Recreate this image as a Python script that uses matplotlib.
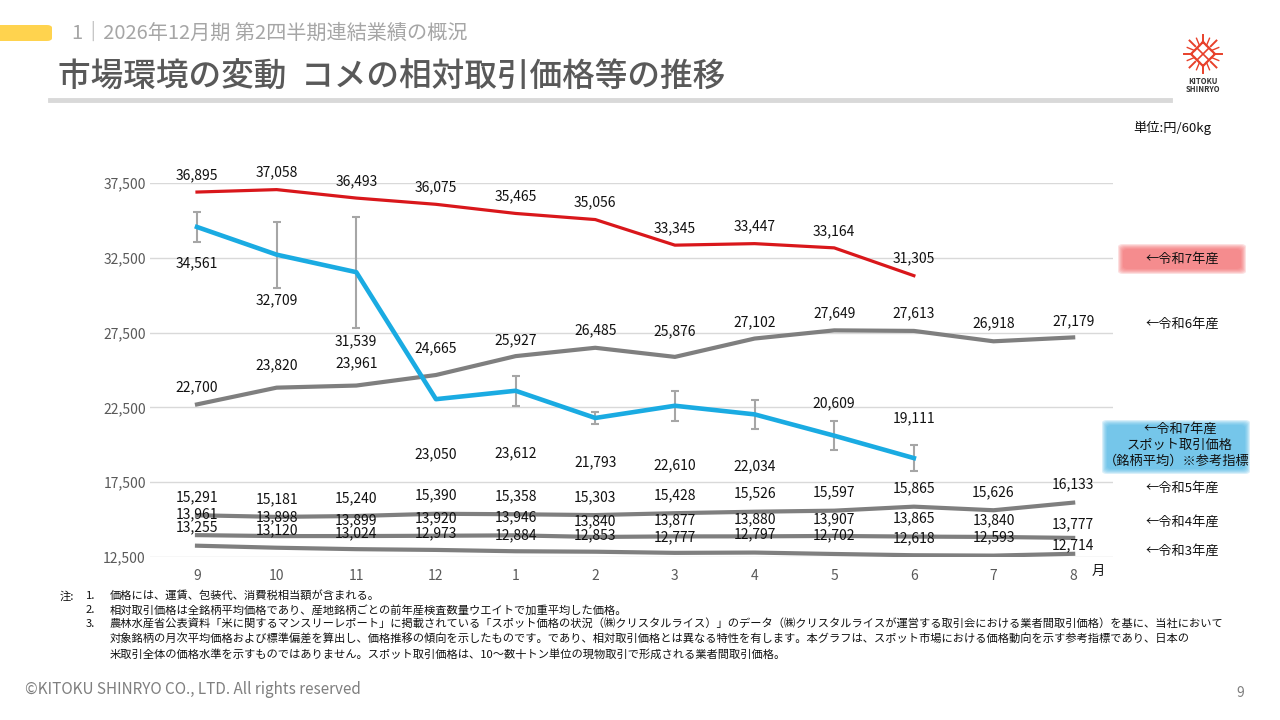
import numpy as np
import matplotlib
matplotlib.use('Agg')
import matplotlib.pyplot as plt
from matplotlib.patches import FancyBboxPatch
from matplotlib.lines import Line2D

plt.rcParams['font.family'] = ['Noto Sans CJK JP', 'DejaVu Sans']

# 値 (円/60kg)
months = ['9', '10', '11', '12', '1', '2', '3', '4', '5', '6', '7', '8']
r7 = [36895, 37058, 36493, 36075, 35465, 35056, 33345, 33447, 33164, 31305]
spot = [34561, 32709, 31539, 23050, 23612, 21793, 22610, 22034, 20609, 19111]
spot_sd = [1000, 2200, 3700, np.nan, 1000, 430, 1000, 970, 970, 870]
r6 = [22700, 23820, 23961, 24665, 25927, 26485, 25876, 27102, 27649, 27613, 26918, 27179]
r5 = [15291, 15181, 15240, 15390, 15358, 15303, 15428, 15526, 15597, 15865, 15626, 16133]
r4 = [13961, 13898, 13899, 13920, 13946, 13840, 13877, 13880, 13907, 13865, 13840, 13777]
r3 = [13255, 13120, 13024, 12973, 12884, 12853, 12777, 12797, 12702, 12618, 12593, 12714]
yticks = [12500, 17500, 22500, 27500, 32500, 37500]

# ラベルの上下ずらし (px, 上が正)
r7_dy = [17] * 10
spot_dy = [-36, -46, -69, -55, -63, -44, -60, -52, 32, 40]
r6_dy = [17, 22, 22, 27, 16, 17, 26, 16, 17, 18, 18, 16]
r5_dy = [18] * 12
r4_dy = [21, 19, 16, 17, 18, 16, 16, 17, 17, 18, 17, 14]
r3_dy = [18, 17, 16, 17, 16, 16, 16, 18, 19, 17, 18, 9]

W, H = 1280, 720
fig = plt.figure(figsize=(12.8, 7.2), dpi=100)


def ftext(x, y, s, **kw):
    fig.text(x / W, 1 - y / H, s, **kw)


def soft_box(x0, y0, x1, y1, color):
    # ぼかした背景
    for i in range(6):
        d = 6 - i
        p = FancyBboxPatch(((x0 - d) / W, 1 - (y1 + d) / H), (x1 - x0 + 2 * d) / W, (y1 - y0 + 2 * d) / H,
                           boxstyle='round,pad=0,rounding_size=0.004', transform=fig.transFigure,
                           facecolor=color, edgecolor='none', alpha=0.2)
        fig.add_artist(p)


ax = fig.add_axes([150 / W, 1 - 557 / H, 963 / W, 374 / H])
x_all = np.arange(len(months))
x10 = x_all[:len(r7)]

ax.errorbar(x10, spot, yerr=spot_sd, fmt='none', ecolor='#A6A6A6', elinewidth=1.5, capsize=3, capthick=1.5, zorder=2)
ax.plot(x10, r7, color='#D9171B', lw=2.3, zorder=4)
ax.plot(x10, spot, color='#1AABE2', lw=3.3, zorder=4)
for s in [r6, r5, r4, r3]:
    ax.plot(x_all, s, color='#7F7F7F', lw=3.0, zorder=3)


def labels(xs, vals, dys):
    for xi, v, dy in zip(xs, vals, dys):
        ax.annotate(f'{v:,}', (xi, v), xytext=(0, dy), textcoords='offset pixels',
                    ha='center', va='center', fontsize=10, color='#111111', zorder=6,
                    annotation_clip=False)


labels(x10, r7, r7_dy)
labels(x10, spot, spot_dy)
labels(x_all, r6, r6_dy)
labels(x_all, r5, r5_dy)
labels(x_all, r4, r4_dy)
labels(x_all, r3, r3_dy)

ax.set_xlim(-0.59, 11.5)
ax.set_ylim(12500, 37500)
ax.set_yticks(yticks)
ax.set_yticklabels([f'{t:,}' for t in yticks])
ax.set_xticks(x_all)
ax.set_xticklabels(months)
ax.tick_params(length=0, labelsize=10, labelcolor='#595959')
ax.tick_params(axis='x', pad=9)
ax.tick_params(axis='y', pad=3)
ax.grid(axis='y', color='#D9D9D9', lw=1)
ax.set_axisbelow(True)
for sp in ax.spines.values():
    sp.set_visible(False)

ftext(1098, 571, '月', fontsize=9.5, color='#111111', ha='center', va='center')

# 右側の凡例
soft_box(1124, 250, 1240, 268, '#F46468')
ftext(1182, 259, '←令和7年産', fontsize=9.5, ha='center', va='center', color='#111111')
ftext(1182, 324, '←令和6年産', fontsize=9.5, ha='center', va='center', color='#111111')
soft_box(1108, 426, 1244, 468, '#45B3E5')
ftext(1180, 429, '←令和7年産', fontsize=9.5, ha='center', va='center', color='#111111')
ftext(1180, 445, 'スポット取引価格', fontsize=9.5, ha='center', va='center', color='#111111')
ftext(1177, 461, '（銘柄平均）※参考指標', fontsize=9.5, ha='center', va='center', color='#111111')
ftext(1182, 488, '←令和5年産', fontsize=9.5, ha='center', va='center', color='#111111')
ftext(1182, 522, '←令和4年産', fontsize=9.5, ha='center', va='center', color='#111111')
ftext(1182, 551, '←令和3年産', fontsize=9.5, ha='center', va='center', color='#111111')
ftext(1172, 128, '単位:円/60kg', fontsize=9.5, ha='center', va='center', color='#111111')

# ヘッダー
fig.add_artist(FancyBboxPatch((-10 / W, 1 - 41 / H), 62 / W, 16 / H,
                              boxstyle='round,pad=0,rounding_size=0.004', transform=fig.transFigure,
                              facecolor='#FFD34E', edgecolor='none'))
ftext(72, 33, '1｜2026年12月期 第2四半期連結業績の概況', fontsize=14.5, color='#A6A6A6', va='center')
ftext(58, 76, '市場環境の変動  コメの相対取引価格等の推移', fontsize=23.5, color='#595959', va='center',
      fontweight='medium')
fig.add_artist(Line2D([50 / W, 1170 / W], [1 - 100 / H, 1 - 100 / H], transform=fig.transFigure,
                      color='#D9D9D9', lw=3.5))

# ロゴ
lax = fig.add_axes([1183 / W, 1 - 74 / H, 40 / W, 40 / H])
lax.set_xlim(-1, 1)
lax.set_ylim(-1, 1)
lax.axis('off')
lc = '#E8402A'
lax.plot([0, 0.6, 0, -0.6, 0], [0.6, 0, -0.6, 0, 0.6], color=lc, lw=1.6)
lax.plot([-0.3, 0.3], [0.3, -0.3], color=lc, lw=1.2)
lax.plot([-0.3, 0.3], [-0.3, 0.3], color=lc, lw=1.2)
for ang in np.arange(0, 360, 45):
    a = np.deg2rad(ang)
    lax.plot([0.55 * np.cos(a), 0.95 * np.cos(a)], [0.55 * np.sin(a), 0.95 * np.sin(a)], color=lc, lw=1.4)
for ang in np.arange(22.5, 360, 45):
    a = np.deg2rad(ang)
    lax.plot([0.45 * np.cos(a), 0.85 * np.cos(a)], [0.45 * np.sin(a), 0.85 * np.sin(a)], color=lc, lw=1.0)
ftext(1203, 81, 'KITOKU', fontsize=5.5, ha='center', va='center', color='#333333', fontweight='bold')
ftext(1203, 89, 'SHINRYO', fontsize=5.5, ha='center', va='center', color='#333333', fontweight='bold')

# 注記
fs = 8.1
ftext(60, 596, '注:', fontsize=fs, va='center', color='#111111')
ftext(86, 596, '1.', fontsize=fs, va='center', color='#111111')
ftext(110, 596, '価格には、運賃、包装代、消費税相当額が含まれる。', fontsize=fs, va='center', color='#111111')
ftext(86, 610, '2.', fontsize=fs, va='center', color='#111111')
ftext(110, 610, '相対取引価格は全銘柄平均価格であり、産地銘柄ごとの前年産検査数量ウエイトで加重平均した価格。',
      fontsize=fs, va='center', color='#111111')
ftext(86, 624, '3.', fontsize=fs, va='center', color='#111111')
ftext(110, 624, '農林水産省公表資料「米に関するマンスリーレポート」に掲載されている「スポット価格の状況（㈱クリスタルライス）」'
      'のデータ（㈱クリスタルライスが運営する取引会における業者間取引価格）を基に、当社において',
      fontsize=fs, va='center', color='#111111')
ftext(110, 639, '対象銘柄の月次平均価格および標準偏差を算出し、価格推移の傾向を示したものです。であり、相対取引価格とは異なる特性を有します。'
      '本グラフは、スポット市場における価格動向を示す参考指標であり、日本の',
      fontsize=fs, va='center', color='#111111')
ftext(110, 654, '米取引全体の価格水準を示すものではありません。スポット取引価格は、10～数十トン単位の現物取引で形成される業者間取引価格。',
      fontsize=fs, va='center', color='#111111')

ftext(25, 690, '©KITOKU SHINRYO CO., LTD. All rights reserved', fontsize=11, va='center', color='#7F7F7F')
ftext(1240, 693, '9', fontsize=10, va='center', ha='center', color='#7F7F7F')

fig.savefig('out.png', dpi=100)
